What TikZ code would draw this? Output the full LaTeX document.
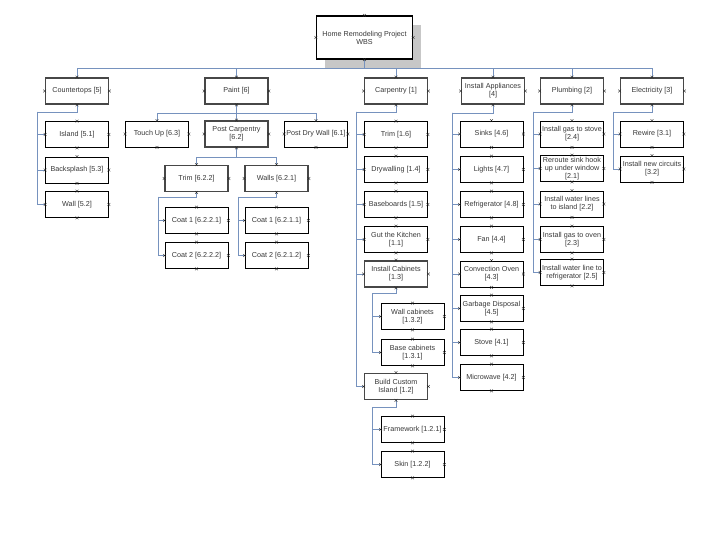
\documentclass[tikz,border=0pt]{standalone}
\usepackage{fontspec}
\setmainfont{Liberation Sans}
\usetikzlibrary{shapes.misc,shadows}
\definecolor{connblue}{RGB}{118,146,190}
\begin{document}
\hyphenpenalty=10000
\exhyphenpenalty=10000
\begin{tikzpicture}[x=1pt,y=-1pt,
  box/.style={draw=black, line width=0.7pt, fill=white, minimum width=63pt, minimum height=26pt,
    text width=60.5pt, align=flush center, inner sep=0.3pt,
    font=\fontsize{7.2}{8}\selectfont, text=black!78},
  pbox/.style={box, draw=black!72, line width=1.8pt},
  rootbox/.style={box, draw=black, line width=1.2pt,
    minimum width=96pt, minimum height=43pt, text width=90pt,
    drop shadow={shadow xshift=8pt, shadow yshift=-9pt, fill=black!22, opacity=1}},
  conn/.style={draw=connblue, line width=0.9pt},
  xmk/.style={cross out, draw=black!85, minimum size=2.4pt, inner sep=0pt, line width=0.4pt}]
\fill[white] (0,0) rectangle (720,540);
\useasboundingbox (0,0) rectangle (720,540);

% root
\node[rootbox] (root) at (364.5,37.5) {Home Remodeling Project\\WBS};

% level 1
\node[pbox] (n5) at (77,91) {Countertops [5]};
\node[pbox] (n6) at (236.5,91) {Paint [6]};
\node[pbox] (n1) at (396,91) {Carpentry [1]};
\node[pbox] (n4) at (493,91) {Install Appliances [4]};
\node[pbox] (n2) at (572,91) {Plumbing [2]};
\node[pbox] (n3) at (652,91) {Electricity [3]};

% countertops
\node[box] (n51) at (77,134.5) {Island [5.1]};
\node[box] (n53) at (77,170) {Backsplash [5.3]};
\node[box] (n52) at (77,204.5) {Wall [5.2]};

% paint
\node[box] (n63) at (157,134) {Touch Up [6.3]};
\node[pbox] (n62) at (236.5,134) {Post Carpentry [6.2]};
\node[box] (n61) at (316,134) {Post Dry Wall [6.1]};
\node[pbox] (n622) at (196.5,178.5) {Trim [6.2.2]};
\node[pbox] (n621) at (276.5,178.5) {Walls [6.2.1]};
\node[box] (n6221) at (196.5,220.5) {Coat 1 [6.2.2.1]};
\node[box] (n6222) at (196.5,255.5) {Coat 2 [6.2.2.2]};
\node[box] (n6211) at (276.5,220.5) {Coat 1 [6.2.1.1]};
\node[box] (n6212) at (276.5,255.5) {Coat 2 [6.2.1.2]};

% carpentry
\node[box] (n16) at (396,134.5) {Trim [1.6]};
\node[box] (n14) at (396,169.5) {Drywalling [1.4]};
\node[box] (n15) at (396,204.5) {Baseboards [1.5]};
\node[box] (n11) at (396,239.5) {Gut the Kitchen [1.1]};
\node[pbox] (n13) at (396,274) {Install Cabinets [1.3]};
\node[box] (n132) at (412.5,316.5) {Wall cabinets [1.3.2]};
\node[box] (n131) at (412.5,352.5) {Base cabinets [1.3.1]};
\node[pbox] (n12) at (396,386.5) {Build Custom Island [1.2]};
\node[box] (n121) at (412.5,429.5) {Framework [1.2.1]};
\node[box] (n122) at (412.5,464.5) {Skin [1.2.2]};

% appliances
\node[box] (n46) at (491.5,134) {Sinks [4.6]};
\node[box] (n47) at (491.5,169.5) {Lights [4.7]};
\node[box] (n48) at (491.5,204.5) {Refrigerator [4.8]};
\node[box] (n44) at (491.5,239.5) {Fan [4.4]};
\node[box] (n43) at (491.5,274) {Convection Oven [4.3]};
\node[box] (n45) at (491.5,308.5) {Garbage Disposal [4.5]};
\node[box] (n41) at (491.5,342.5) {Stove [4.1]};
\node[box] (n42) at (491.5,377.5) {Microwave [4.2]};

% plumbing
\node[box] (n24) at (572,134) {Install gas to stove [2.4]};
\node[box] (n21) at (572,168.5) {Reroute sink hook up under window [2.1]};
\node[box] (n22) at (572,204) {Install water lines to island [2.2]};
\node[box] (n23) at (572,239.5) {Install gas to oven [2.3]};
\node[box] (n25) at (572,272.5) {Install water line to refrigerator [2.5]};

% electricity
\node[box] (n31) at (652,134) {Rewire [3.1]};
\node[box] (n32) at (652,169) {Install new circuits [3.2]};

% connectors
\coordinate (bus) at (364.5,68);
\draw[conn] (root.south) -- (bus);
\foreach \n in {n5,n6,n1,n4,n2,n3} \draw[conn] (bus) -| (\n.north);

\coordinate (b5) at (37,112);
\draw[conn] (n5.south) |- (b5);
\foreach \n in {n51,n53,n52} \draw[conn] (b5) |- (\n.west);

\coordinate (b6) at (236.5,113);
\draw[conn] (n6.south) -- (b6);
\foreach \n in {n63,n62,n61} \draw[conn] (b6) -| (\n.north);

\coordinate (b62) at (236.5,157);
\draw[conn] (n62.south) -- (b62);
\foreach \n in {n622,n621} \draw[conn] (b62) -| (\n.north);

\coordinate (b622) at (158,197);
\draw[conn] (n622.south) |- (b622);
\foreach \n in {n6221,n6222} \draw[conn] (b622) |- (\n.west);

\coordinate (b621) at (238,197);
\draw[conn] (n621.south) |- (b621);
\foreach \n in {n6211,n6212} \draw[conn] (b621) |- (\n.west);

\coordinate (b1) at (356,112);
\draw[conn] (n1.south) |- (b1);
\foreach \n in {n16,n14,n15,n11,n13,n12} \draw[conn] (b1) |- (\n.west);

\coordinate (b13) at (372,293);
\draw[conn] (n13.south) |- (b13);
\foreach \n in {n132,n131} \draw[conn] (b13) |- (\n.west);

\coordinate (b12) at (372,407);
\draw[conn] (n12.south) |- (b12);
\foreach \n in {n121,n122} \draw[conn] (b12) |- (\n.west);

\coordinate (b4) at (452,113);
\draw[conn] (n4.south) |- (b4);
\foreach \n in {n46,n47,n48,n44,n43,n45,n41,n42} \draw[conn] (b4) |- (\n.west);

\coordinate (b2) at (533,112);
\draw[conn] (n2.south) |- (b2);
\foreach \n in {n24,n21,n22,n23,n25} \draw[conn] (b2) |- (\n.west);

\coordinate (b3) at (613,112);
\draw[conn] (n3.south) |- (b3);
\foreach \n in {n31,n32} \draw[conn] (b3) |- (\n.west);

% connection marks
\foreach \n in {root,n5,n6,n1,n4,n2,n3,n51,n53,n52,n63,n62,n61,n622,n621,n6221,n6222,n6211,n6212,
  n16,n14,n15,n11,n13,n132,n131,n12,n121,n122,n46,n47,n48,n44,n43,n45,n41,n42,
  n24,n21,n22,n23,n25,n31,n32}
  \foreach \a in {north,south,east,west} \node[xmk] at (\n.\a) {};
\end{tikzpicture}
\end{document}
